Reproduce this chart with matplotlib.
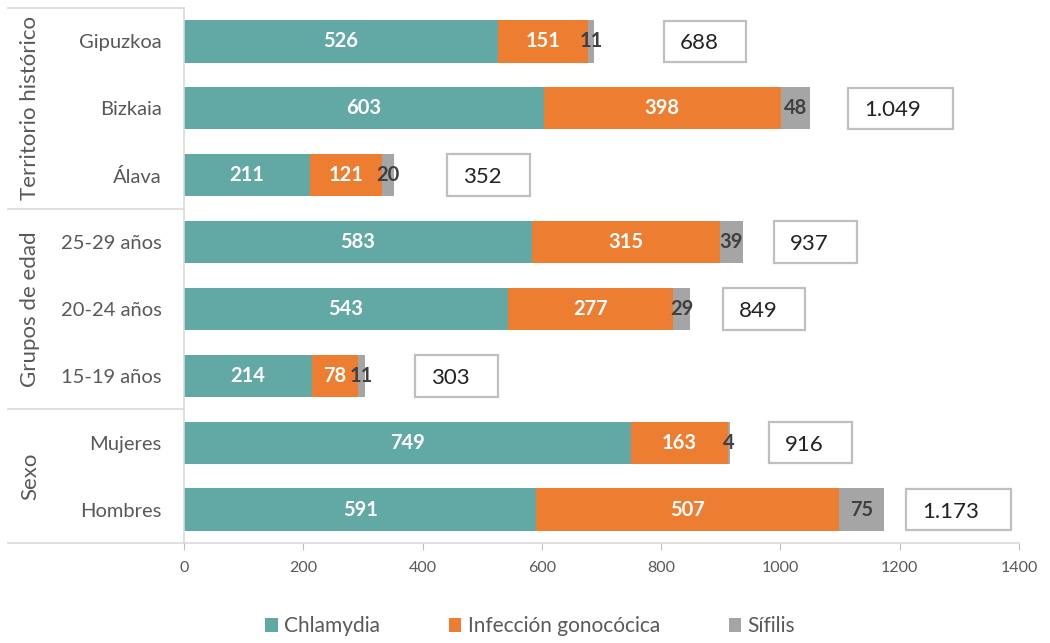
import numpy as np
import matplotlib.pyplot as plt
from matplotlib.patches import Rectangle

categories = ['Gipuzkoa', 'Bizkaia', 'Álava', '25-29 años', '20-24 años',
              '15-19 años', 'Mujeres', 'Hombres']
chlamydia = [526, 603, 211, 583, 543, 214, 749, 591]
gonococica = [151, 398, 121, 315, 277, 78, 163, 507]
sifilis = [11, 48, 20, 39, 29, 11, 4, 75]
totals = [688, 1049, 352, 937, 849, 303, 916, 1173]

groups = ['Territorio histórico', 'Grupos de edad', 'Sexo']
group_rows = [(0, 2), (3, 5), (6, 7)]

# gap between bar end and its total box, in data units (hand placed in the original)
box_gap = [116, 64, 89, 52, 54, 84, 65, 37]

teal = '#62A9A6'
orange = '#ED7D31'
grey = '#A5A5A5'
text_grey = '#595959'

plt.rcParams['font.family'] = ['Lato', 'DejaVu Sans']


def fmt(v):
    return f'{v:,}'.replace(',', '.')


def main():
    fig = plt.figure(figsize=(10.5, 6.43), dpi=100)
    ax = fig.add_axes([184 / 1050, 100 / 643, 835 / 1050, 535 / 643])

    y = np.arange(len(categories))
    c = np.array(chlamydia)
    g = np.array(gonococica)
    s = np.array(sifilis)
    h = 0.63

    b1 = ax.barh(y, c, height=h, color=teal, label='Chlamydia')
    b2 = ax.barh(y, g, left=c, height=h, color=orange, label='Infección gonocócica')
    b3 = ax.barh(y, s, left=c + g, height=h, color=grey, label='Sífilis')

    for bars, vals, col in [(b1, c, 'white'), (b2, g, 'white'), (b3, s, '#404040')]:
        for bar, v in zip(bars, vals):
            ax.text(bar.get_x() + bar.get_width() / 2, bar.get_y() + bar.get_height() / 2,
                    str(v), ha='center', va='center', color=col, fontsize=14.5,
                    fontweight='bold')

    for i, t in enumerate(totals):
        w = 139 if t < 1000 else 176
        x0 = t + box_gap[i]
        ax.add_patch(Rectangle((x0, i - 0.31), w, 0.62, facecolor='white',
                               edgecolor='#BFBFBF', linewidth=1.6, clip_on=False))
        ax.text(x0 + 27, i + 0.03, fmt(t), ha='left', va='center', fontsize=16,
                color='#222222')

    ax.set_xlim(0, 1400)
    ax.set_ylim(7.5, -0.5)
    ax.set_xticks(range(0, 1401, 200))
    ax.tick_params(axis='x', colors='#BFBFBF', labelcolor=text_grey, labelsize=11.5,
                   length=5, pad=8)
    ax.set_yticks(y)
    ax.set_yticklabels(categories)
    ax.tick_params(axis='y', length=0, labelcolor=text_grey, labelsize=14.5, pad=16)

    for side in ['top', 'right']:
        ax.spines[side].set_visible(False)
    for side in ['left', 'bottom']:
        ax.spines[side].set_color('#D9D9D9')
        ax.spines[side].set_linewidth(1.2)

    # group brackets on the left
    tr = ax.get_yaxis_transform()
    x_left = -176 / 835
    for yy in [-0.5, 2.5, 5.5, 7.5]:
        ax.plot([x_left, 0], [yy, yy], transform=tr, color='#D9D9D9', lw=1.2,
                clip_on=False)
    for name, (a, b) in zip(groups, group_rows):
        ax.text(-154 / 835, (a + b) / 2, name, transform=tr, rotation=90,
                ha='center', va='center', fontsize=16, color=text_grey)

    fig.legend(handles=[b1, b2, b3], loc='center', bbox_to_anchor=(0.505, 0.026),
               ncol=3, frameon=False, fontsize=15, handlelength=0.6, handleheight=0.6,
               handletextpad=0.3, columnspacing=3.3, labelcolor=text_grey)

    fig.savefig('out.png', dpi=100)


if __name__ == '__main__':
    main()
